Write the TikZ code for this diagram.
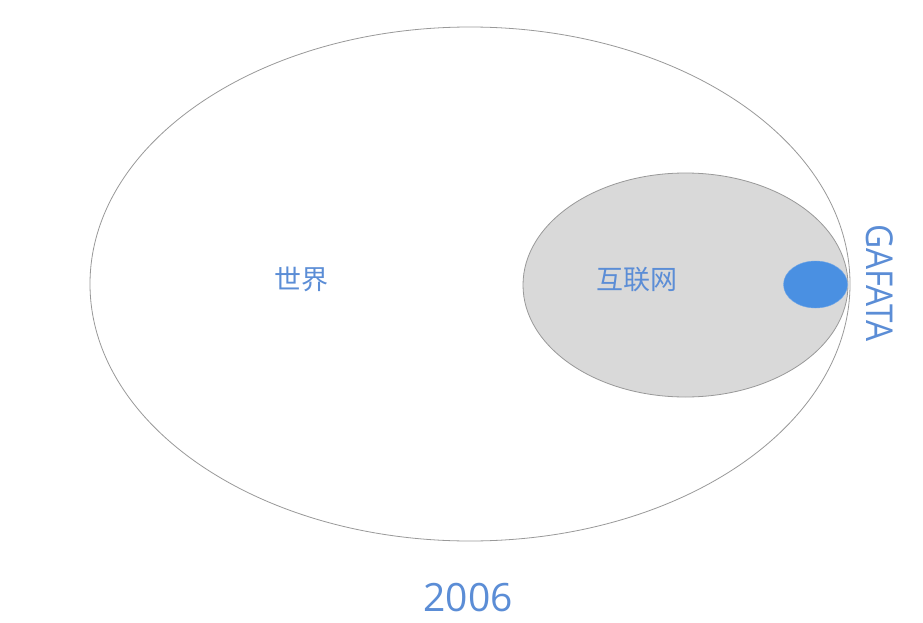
\documentclass[tikz,border=0pt]{standalone}
\usepackage{fontspec}
\usetikzlibrary{shapes.geometric}
\setmainfont{Open Sans}
\newfontfamily\cjk{Noto Sans CJK SC}
\definecolor{hand}{HTML}{5B8DD6}
\definecolor{blob}{HTML}{4A90E2}
\definecolor{inet}{HTML}{D9D9D9}
\definecolor{edge}{HTML}{999999}
\begin{document}
\begin{tikzpicture}[x=1pt,y=-1pt,
  lbl/.style={text=hand,inner sep=0pt},
  ring/.style={draw=edge,line width=0.8pt}]
\useasboundingbox (0,0) rectangle (923,623);
\fill[white] (0,0) rectangle (923,623);
\node[ring,ellipse,minimum width=760pt,minimum height=514pt,inner sep=0pt] (world) at (470,284) {};
\node[ring,ellipse,fill=inet,minimum width=325pt,minimum height=224pt,inner sep=0pt] (internet) at (685.5,285) {};
\node[ellipse,fill=blob,draw=blob!80,minimum width=64pt,minimum height=47pt,inner sep=0pt] (gafa) at (815.5,284.5) {};
\node[lbl,font=\cjk\fontsize{27}{27}\selectfont] (tworld) at (301,279) {世界};
\node[lbl,font=\cjk\fontsize{27}{27}\selectfont] (tnet) at (637,280) {互联网};
\node[lbl,font=\fontsize{37}{37}\selectfont,rotate=-90,xscale=0.9] (tgafata) at (880,283) {GAFATA};
\node[lbl,font=\fontsize{39}{39}\selectfont] (tyear) at (468,598) {2006};
\end{tikzpicture}
\end{document}
